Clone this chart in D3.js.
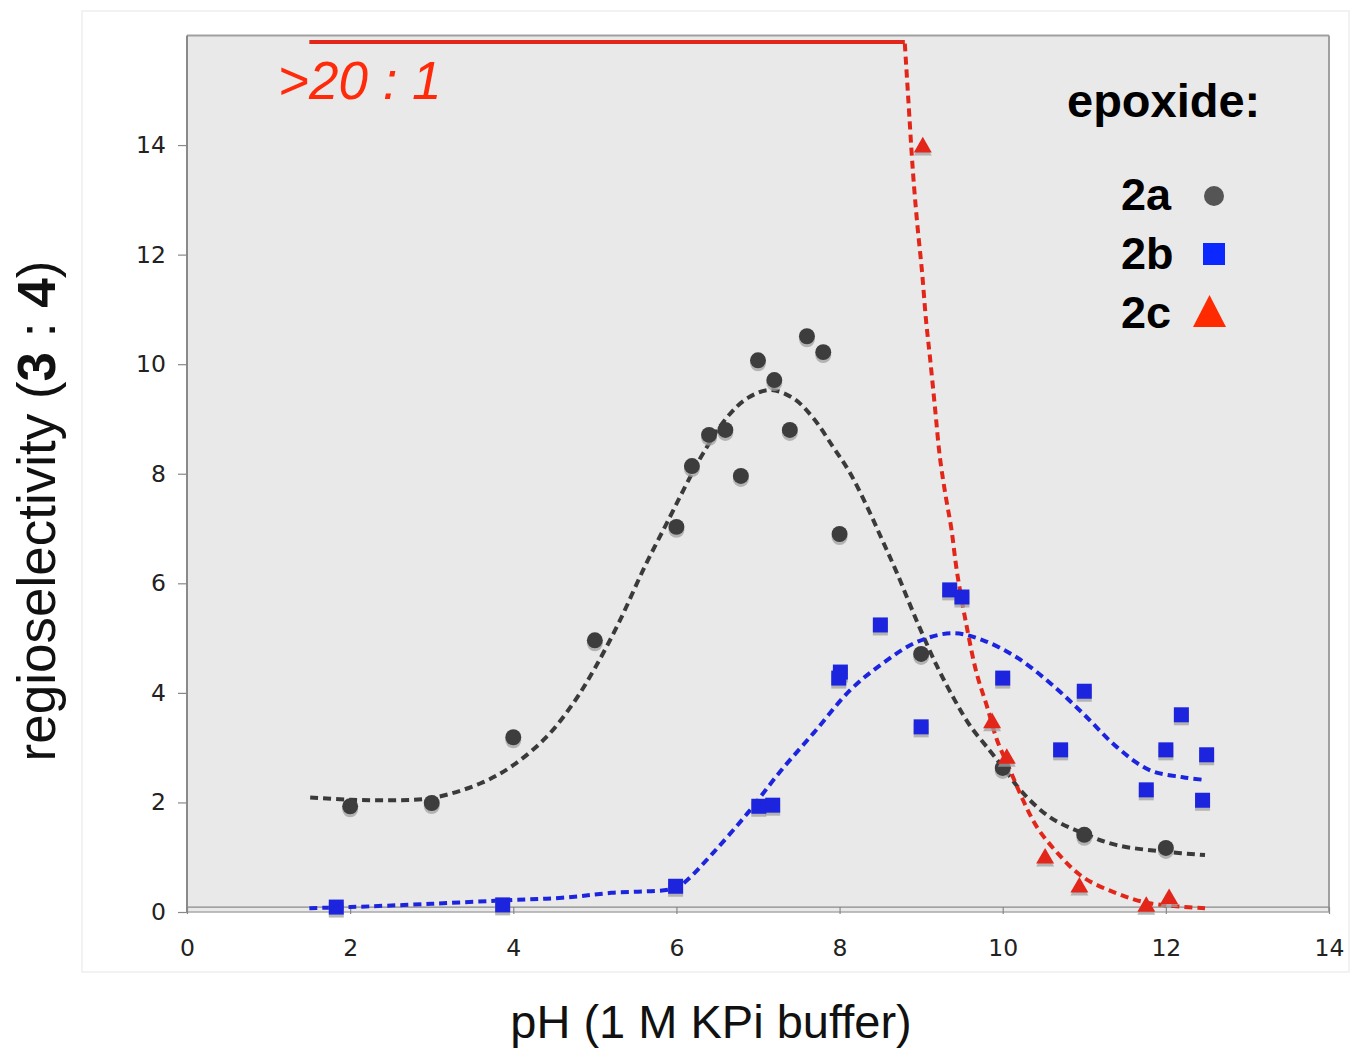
<!DOCTYPE html>
<html>
<head>
<meta charset="utf-8">
<script src="https://cdn.jsdelivr.net/npm/d3@7"></script>
<style>
  body { margin: 0; background: #fff; }
  svg { display: block; }
</style>
</head>
<body>
<div id="chart"></div>
<script>
// tick labels
const xTicks = [0, 2, 4, 6, 8, 10, 12, 14];
const yTicks = [0, 2, 4, 6, 8, 10, 12, 14];

// measured points (pH, 3:4 ratio)
const pts2a = [[2.0, 1.93], [3.0, 1.99], [4.0, 3.19], [5.0, 4.96], [6.0, 7.03], [6.19, 8.14],
  [6.4, 8.71], [6.6, 8.80], [6.79, 7.96], [7.0, 10.07], [7.2, 9.71], [7.39, 8.80],
  [7.6, 10.51], [7.8, 10.22], [8.0, 6.90], [9.0, 4.71], [10.0, 2.63], [11.0, 1.41], [12.0, 1.17]];
const pts2b = [[1.83, 0.09], [3.87, 0.13], [5.99, 0.47], [7.01, 1.93], [7.18, 1.95], [7.99, 4.27],
  [8.01, 4.38], [8.5, 5.24], [9.0, 3.38], [9.35, 5.88], [9.5, 5.75], [10.0, 4.27], [10.71, 2.96],
  [11.0, 4.03], [11.76, 2.23], [12.0, 2.96], [12.19, 3.6], [12.45, 2.04], [12.5, 2.87]];
const pts2c = [[9.02, 13.96], [9.87, 3.45], [10.05, 2.8], [10.52, 0.98], [10.94, 0.45],
  [11.76, 0.1], [12.04, 0.24]];

// fitted trend lines
const fit2a = [[1.51, 2.09], [2.0, 2.05], [2.5, 2.04], [3.0, 2.08], [3.6, 2.35], [4.0, 2.68],
  [4.41, 3.2], [4.73, 3.8], [5.0, 4.45], [5.3, 5.3], [5.61, 6.3], [5.92, 7.21], [6.13, 7.83],
  [6.33, 8.38], [6.62, 9.03], [6.87, 9.38], [7.15, 9.53], [7.43, 9.38], [7.67, 9.03],
  [7.92, 8.49], [8.13, 8.01], [8.34, 7.39], [8.52, 6.8], [8.7, 6.2], [8.95, 5.3], [9.19, 4.5],
  [9.4, 3.9], [9.6, 3.4], [9.84, 2.95], [10.0, 2.65], [10.25, 2.17], [10.58, 1.73],
  [10.98, 1.44], [11.4, 1.22], [12.0, 1.1], [12.48, 1.04]];
const fit2b = [[1.5, 0.07], [2.0, 0.09], [3.0, 0.15], [4.0, 0.22], [4.6, 0.26], [5.2, 0.35],
  [6.0, 0.44], [6.13, 0.58], [6.45, 1.08], [6.87, 1.8], [7.27, 2.56], [7.7, 3.3], [8.13, 4.05],
  [8.53, 4.54], [8.95, 4.93], [9.39, 5.09], [9.76, 4.96], [10.17, 4.65], [10.58, 4.18],
  [10.98, 3.63], [11.4, 3.01], [11.8, 2.59], [12.21, 2.46], [12.48, 2.41]];
const cap2c = [[1.5, 15.88], [8.8, 15.88]];
const fit2c = [[8.8, 15.85], [8.84, 14.9], [8.9, 13.5], [8.95, 12.6], [9.01, 11.7], [9.06, 10.8],
  [9.11, 10.1], [9.17, 9.2], [9.23, 8.3], [9.3, 7.6], [9.37, 7.0], [9.44, 6.2], [9.56, 5.2],
  [9.68, 4.36], [9.81, 3.74], [9.93, 3.14], [10.09, 2.59], [10.25, 2.04], [10.42, 1.55],
  [10.67, 1.08], [10.98, 0.64], [11.4, 0.34], [11.8, 0.16], [12.48, 0.07]];

const legendNames = ["2a", "2b", "2c"];

const W = 1350, H = 1049;
const svg = d3.select("#chart").append("svg").attr("width", W).attr("height", H);

// faint outer border
svg.append("rect").attr("x", 82).attr("y", 11).attr("width", 1267).attr("height", 961)
  .attr("fill", "none").attr("stroke", "#eeeeee").attr("stroke-width", 1.5);

const x = d3.scaleLinear().domain([0, 14]).range([187, 1329]);
const y = d3.scaleLinear().domain([0, 16]).range([912, 35.5]);

// plot area
svg.append("rect").attr("x", x(0)).attr("y", y(16)).attr("width", x(14) - x(0)).attr("height", y(0) - y(16))
  .attr("fill", "#e9e9e9");
// frame
svg.append("line").attr("x1", x(0)).attr("x2", x(14)).attr("y1", y(16)).attr("y2", y(16))
  .attr("stroke", "#a0a0a0").attr("stroke-width", 2);
svg.append("line").attr("x1", x(14)).attr("x2", x(14)).attr("y1", y(16)).attr("y2", y(0))
  .attr("stroke", "#a0a0a0").attr("stroke-width", 2);
svg.append("line").attr("x1", x(0)).attr("x2", x(14)).attr("y1", y(0)).attr("y2", y(0))
  .attr("stroke", "#a8a8a8").attr("stroke-width", 1.5);
svg.append("line").attr("x1", x(0)).attr("x2", x(14)).attr("y1", y(0.09)).attr("y2", y(0.09))
  .attr("stroke", "#8a8a8a").attr("stroke-width", 1.2);
svg.append("line").attr("x1", x(0)).attr("x2", x(0)).attr("y1", y(16)).attr("y2", y(0))
  .attr("stroke", "#8a8a8a").attr("stroke-width", 2);

// axes
const xAxis = svg.append("g").attr("transform", `translate(0,${y(0.09)})`)
  .call(d3.axisBottom(x).tickValues(xTicks).tickSize(7).tickPadding(25));
const yAxis = svg.append("g").attr("transform", `translate(${x(0)},0)`)
  .call(d3.axisLeft(y).tickValues(yTicks).tickSize(9).tickPadding(12));
[xAxis, yAxis].forEach(g => {
  g.select(".domain").remove();
  g.selectAll(".tick line").attr("stroke", "#888").attr("stroke-width", 1.2);
  g.selectAll(".tick text").attr("fill", "#222")
    .style("font-family", "'DejaVu Sans', Verdana, sans-serif").style("font-size", "23.5px");
});

// axis titles
svg.append("text").attr("x", 711).attr("y", 1038).attr("text-anchor", "middle")
  .style("font-family", "'Liberation Sans', Arial, sans-serif").style("font-size", "47px")
  .attr("fill", "#111").text("pH (1 M KPi buffer)");
const yt = svg.append("text").attr("transform", "translate(55,511) rotate(-90)").attr("text-anchor", "middle")
  .style("font-family", "'Liberation Sans', Arial, sans-serif").style("font-size", "53px").attr("fill", "#111");
yt.append("tspan").text("regioselectivity (");
yt.append("tspan").style("font-weight", "bold").text("3");
yt.append("tspan").text(" : ");
yt.append("tspan").style("font-weight", "bold").text("4");
yt.append("tspan").text(")");

// fit lines
const line = d3.line().x(d => x(d[0])).y(d => y(d[1])).curve(d3.curveCatmullRom.alpha(0.5));
const fits = [
  { data: fit2a, color: "#3a3a3a" },
  { data: fit2b, color: "#1c24de" },
  { data: fit2c, color: "#e2261a" }
];
svg.selectAll("path.fit").data(fits).enter().append("path").attr("class", "fit")
  .attr("d", d => line(d.data)).attr("fill", "none").attr("stroke", d => d.color)
  .attr("stroke-width", 4).attr("stroke-dasharray", "8,5");
svg.append("path").attr("d", d3.line().x(d => x(d[0])).y(d => y(d[1]))(cap2c))
  .attr("fill", "none").attr("stroke", "#e2261a").attr("stroke-width", 4);

svg.append("text").attr("x", 278).attr("y", 99)
  .style("font-family", "'Liberation Sans', Arial, sans-serif").style("font-size", "53px")
  .style("font-style", "italic").attr("fill", "#ff2a0a").text(">20 : 1");

// markers with drop shadow
const series = [
  { data: pts2a, symbol: d3.symbolCircle, size: 200, color: "#3d3d3d" },
  { data: pts2b, symbol: d3.symbolSquare, size: 225, color: "#1c24de" },
  { data: pts2c, symbol: d3.symbolTriangle, size: 140, color: "#e2261a" }
];
series.forEach(s => {
  const sym = d3.symbol().type(s.symbol).size(s.size);
  svg.append("g").selectAll("path").data(s.data).enter().append("path")
    .attr("transform", d => `translate(${x(d[0])},${y(d[1]) + 3})`)
    .attr("d", sym).attr("fill", "#a0a0a0").attr("opacity", 0.75);
  svg.append("g").selectAll("path").data(s.data).enter().append("path")
    .attr("transform", d => `translate(${x(d[0])},${y(d[1])})`)
    .attr("d", sym).attr("fill", s.color);
});

// legend
svg.append("text").attr("x", 1067).attr("y", 117)
  .style("font-family", "'Liberation Sans', Arial, sans-serif").style("font-size", "47px")
  .style("font-weight", "bold").attr("fill", "#000").text("epoxide:");
const lg = svg.append("g").selectAll("g").data(legendNames).enter().append("g")
  .attr("transform", (d, i) => `translate(0,${210 + i * 59})`);
lg.append("text").attr("x", 1121).attr("y", 0)
  .style("font-family", "'Liberation Sans', Arial, sans-serif").style("font-size", "45px")
  .style("font-weight", "bold").attr("fill", "#000").text(d => d);
lg.filter((d, i) => i === 0).append("circle").attr("cx", 1214).attr("cy", -14).attr("r", 10).attr("fill", "#555");
lg.filter((d, i) => i === 1).append("rect").attr("x", 1203).attr("y", -26).attr("width", 22).attr("height", 22).attr("fill", "#0a28ff");
lg.filter((d, i) => i === 2).append("path").attr("d", "M1193,-1 L1226,-1 L1209.5,-33 Z").attr("fill", "#ff2a00");
</script>
</body>
</html>
